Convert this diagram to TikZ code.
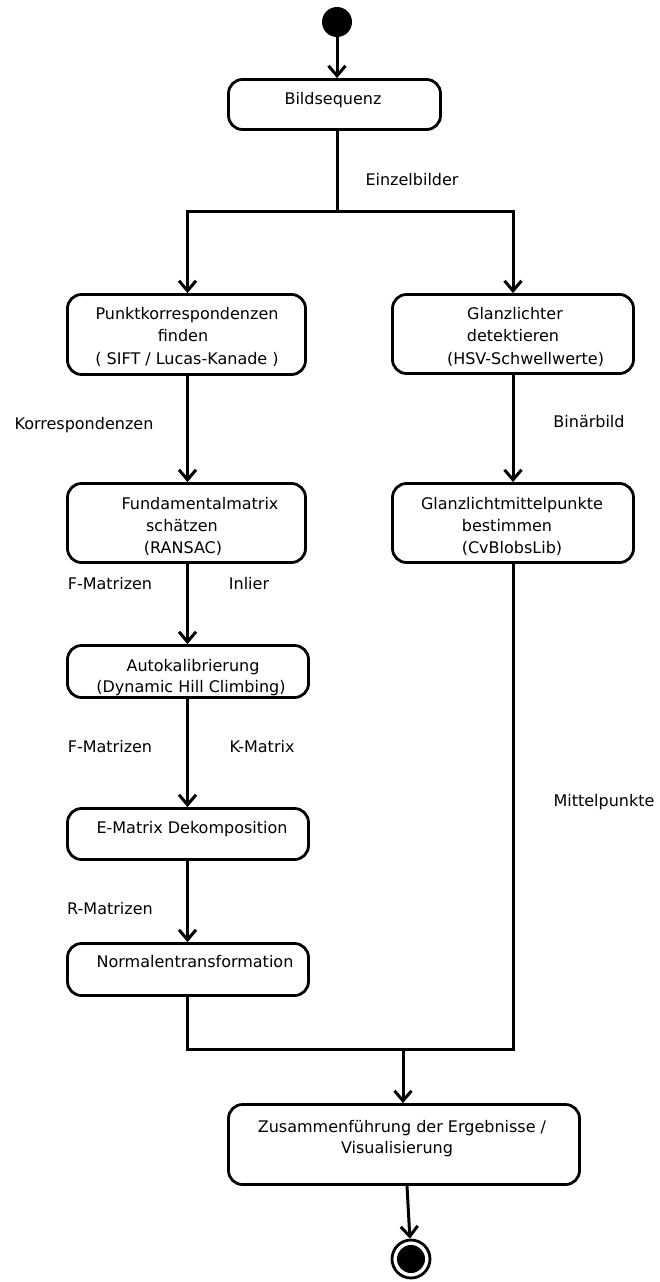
\documentclass[tikz,border=0pt]{standalone}
\usepackage{fontspec}
\setmainfont{DejaVu Sans}
\usetikzlibrary{arrows.meta}
\begin{document}
\begin{tikzpicture}[x=1pt,y=-1pt,
  box/.style={draw,rounded corners=14pt,line width=2.8pt,inner sep=0pt,fill=white},
  txt/.style={inner sep=0pt,font=\fontsize{16}{19}\selectfont,text height=11pt,text depth=2pt},
  arr/.style={line width=3pt,-{Straight Barb[length=10pt,width=17pt,line width=3pt]}},
  ln/.style={line width=3pt}]
\useasboundingbox[fill=white] (0,0) rectangle (660,1282);
% nodes
\node[circle,fill=black,minimum size=30pt,inner sep=0pt] (start) at (337,22) {};
\node[box,minimum width=212pt,minimum height=50pt] (bild) at (334.5,104.5) {};
\node[box,minimum width=238pt,minimum height=80pt] (punkt) at (186.5,334.5) {};
\node[box,minimum width=241pt,minimum height=79pt] (glanz) at (513,334) {};
\node[box,minimum width=238pt,minimum height=79pt] (fund) at (186.5,523) {};
\node[box,minimum width=241pt,minimum height=79pt] (gmp) at (513,523) {};
\node[box,minimum width=241pt,minimum height=52pt] (auto) at (188,671.5) {};
\node[box,minimum width=241pt,minimum height=51pt] (emat) at (188,834) {};
\node[box,minimum width=241pt,minimum height=52pt] (norm) at (188,969.5) {};
\node[box,minimum width=351pt,minimum height=80pt] (final) at (404,1144.5) {};
\node[circle,draw,line width=2.8pt,minimum size=38pt,inner sep=0pt] (end) at (411,1259) {};
\fill (end.center) circle (14pt);
% texts
\node[txt] (tbild) at (333,100) {Bildsequenz};
\node[txt] (tp1) at (187,315) {Punktkorrespondenzen};
\node[txt] (tp2) at (183,337) {finden};
\node[txt] (tp3) at (187,360) {( SIFT / Lucas-Kanade )};
\node[txt] (tg1) at (515,315) {Glanzlichter};
\node[txt] (tg2) at (513,337) {detektieren};
\node[txt] (tg3) at (525.5,360) {(HSV-Schwellwerte)};
\node[txt] (tf1) at (200,505) {Fundamentalmatrix};
\node[txt] (tf2) at (182,527) {schätzen};
\node[txt] (tf3) at (183,549) {(RANSAC)};
\node[txt] (tm1) at (512,505) {Glanzlichtmittelpunkte};
\node[txt] (tm2) at (507,527) {bestimmen};
\node[txt] (tm3) at (512,549) {(CvBlobsLib)};
\node[txt] (ta1) at (193,667) {Autokalibrierung};
\node[txt] (ta2) at (191,688) {(Dynamic Hill Climbing)};
\node[txt] (te1) at (192,829) {E-Matrix Dekomposition};
\node[txt] (tn1) at (195,963) {Normalentransformation};
\node[txt] (tz1) at (402,1128) {Zusammenführung der Ergebnisse /};
\node[txt] (tz2) at (397,1149) {Visualisierung};
% labels
\node[txt] (lein) at (412,181) {Einzelbilder};
\node[txt] (lkor) at (84,425) {Korrespondenzen};
\node[txt] (lbin) at (589,423) {Binärbild};
\node[txt] (lf1) at (110,585) {F-Matrizen};
\node[txt] (linl) at (249,585) {Inlier};
\node[txt] (lf2) at (110,748) {F-Matrizen};
\node[txt] (lk) at (262,748) {K-Matrix};
\node[txt] (lmit) at (604,802) {Mittelpunkte};
\node[txt] (lr) at (110,910) {R-Matrizen};
% coordinates
\coordinate (sp) at (337,211);
\coordinate (spL) at (187.5,211);
\coordinate (spR) at (513,211);
\coordinate (jL) at (187.5,1049);
\coordinate (jR) at (513,1049);
\coordinate (jM) at (403,1049);
% connectors
\draw[arr] (start) -- (start |- bild.north);
\draw[ln] (bild.south -| sp) -- (sp);
\draw[ln,line cap=rect] (spL) -- (spR);
\draw[arr] (spL) -- (spL |- punkt.north);
\draw[arr] (spR) -- (spR |- glanz.north);
\draw[arr] (punkt.south -| spL) -- (spL |- fund.north);
\draw[arr] (glanz.south -| spR) -- (spR |- gmp.north);
\draw[arr] (fund.south -| spL) -- (spL |- auto.north);
\draw[arr] (auto.south -| spL) -- (spL |- emat.north);
\draw[arr] (emat.south -| spL) -- (spL |- norm.north);
\draw[ln,line join=miter] (norm.south -| spL) -- (jL) -- (jR) -- (gmp.south -| jR);
\draw[arr] (jM) -- (jM |- final.north);
\draw[arr] ([xshift=3pt]final.south) -- (end);
\end{tikzpicture}
\end{document}
